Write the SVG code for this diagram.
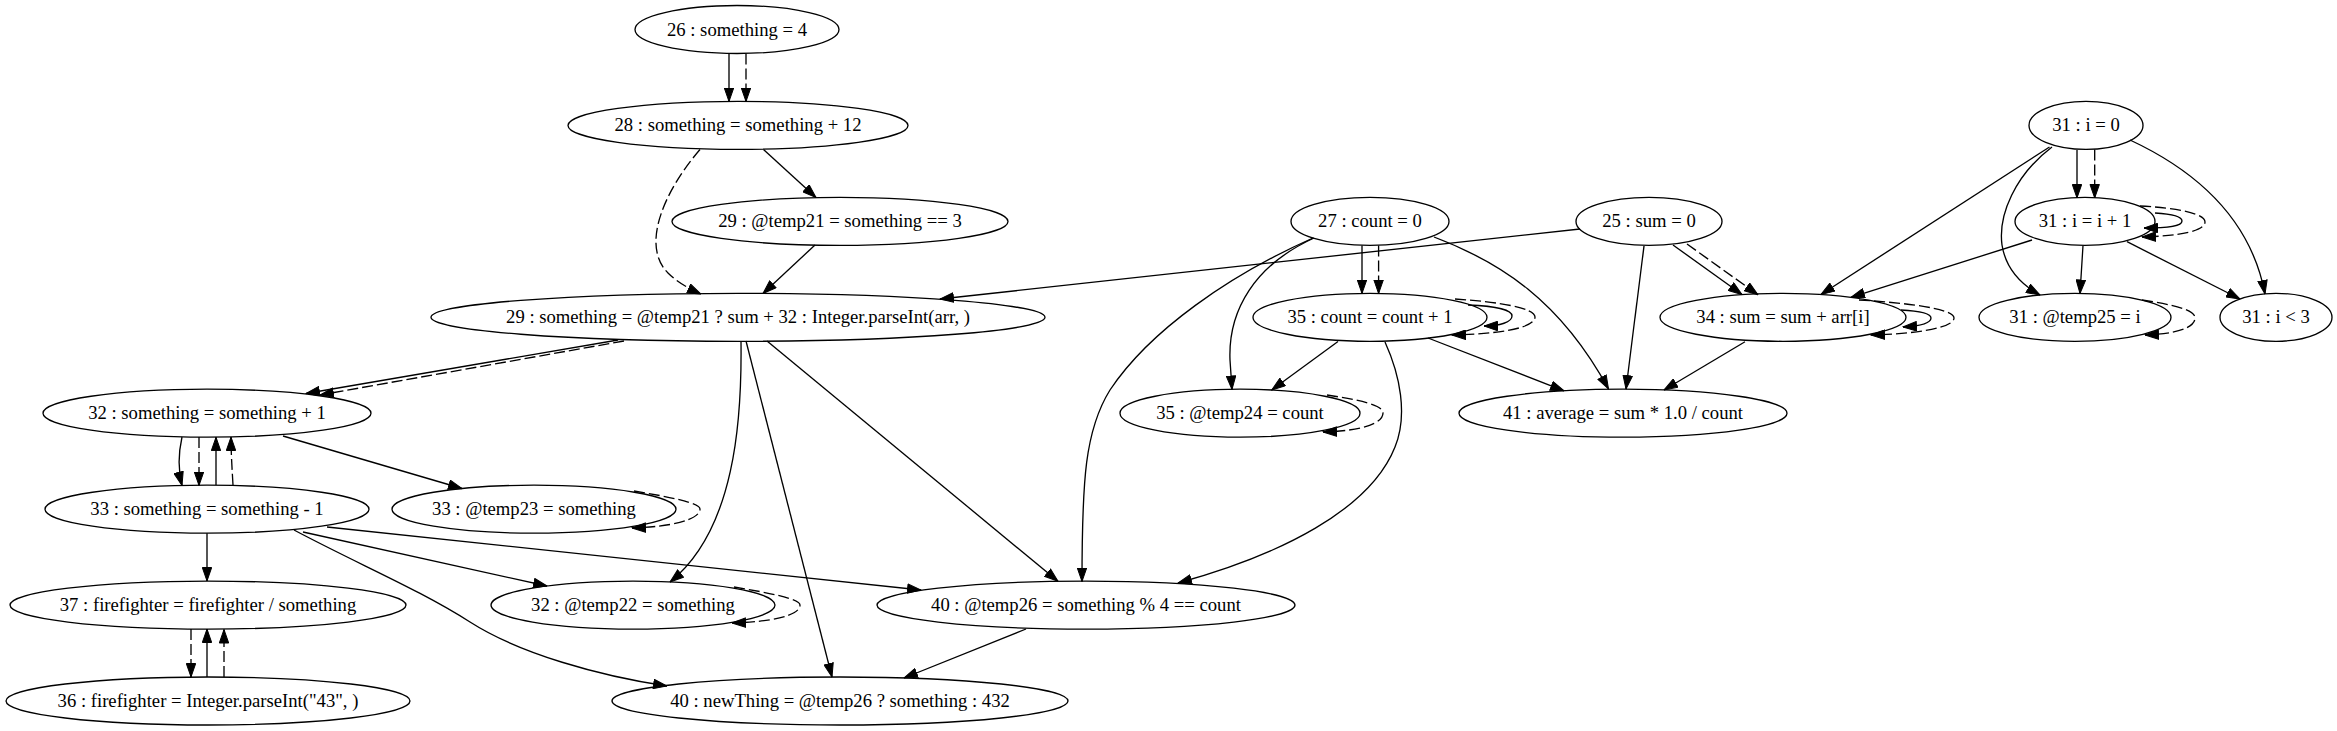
<svg xmlns="http://www.w3.org/2000/svg" width="2337" height="731" viewBox="0 0 2337 731">
<style>
.n ellipse{fill:none;stroke:#000;stroke-width:1.33}
.n text{font-family:"Liberation Serif","Times New Roman",serif;font-size:18.67px;text-anchor:middle;fill:#000}
#edges path{fill:none;stroke:#000;stroke-width:1.33;marker-end:url(#ah)}
#edges path.d{stroke-dasharray:11,4}
</style>
<defs>
<marker id="ah" markerUnits="userSpaceOnUse" viewBox="0 0 14.5 10.4" markerWidth="14.5" markerHeight="10.4" refX="14" refY="5.2" orient="auto">
<path d="M0.5,0.5 L14,5.2 L0.5,9.9 Z" fill="#000" stroke="#000" stroke-width="1" stroke-dasharray="none"/>
</marker>
</defs>
<rect width="2337" height="731" fill="#fff"/>
<g id="edges">
<path d="M729,53.5 L729,101.5"/>
<path class="d" d="M746,53.5 L746,101.5"/>
<path class="d" d="M700,149.5 C665,190 640,245 668,273 C678,283 690,289 701,294"/>
<path d="M763.5,149.5 L816,197.5"/>
<path d="M815,245 L763,293.5"/>
<path d="M618,340 L306,393.5"/>
<path class="d" d="M624,341 L320,395"/>
<path d="M741,341 C742,420 735,530 670,582"/>
<path d="M746,341 L832,677"/>
<path d="M767,341 L1058,581.3"/>
<path d="M182,437 C178,455 178,470 182,485.5"/>
<path class="d" d="M199,437 L199,485.5"/>
<path d="M216,485 L216,437.2"/>
<path class="d" d="M233,485 C232,468 231,452 231,437"/>
<path d="M283,436 L462,488.5"/>
<path class="d" d="M634,491 C670,497 700,503 700,509 C700,520 670,527 632,528"/>
<path d="M207,533.2 L207,581"/>
<path d="M303,532 L547,586"/>
<path d="M327,527 L921,590"/>
<path d="M294,530 C360,565 420,590 470,622 C520,654 600,676 667,686"/>
<path class="d" d="M191,629 L191,677"/>
<path d="M207,677 L207,629"/>
<path class="d" d="M224,677 L224,629.5"/>
<path class="d" d="M734,587 C770,593 800,599 800,605 C800,616 770,622 732,623"/>
<path d="M1026,629 L904,678"/>
<path d="M1580,229 L940,299"/>
<path d="M1362,245.5 L1362,293.5"/>
<path class="d" d="M1378.6,245.5 L1378.6,293.5"/>
<path d="M1314,238 C1255,265 1228,310 1230,360 L1232,389.5"/>
<path d="M1313,238 C1230,275 1150,330 1110,390 C1085,430 1082,480 1082,581.5"/>
<path d="M1434,237 C1500,262 1560,300 1608.5,389"/>
<path d="M1468,305 C1495,306 1512,310 1512,316 C1512,322 1500,326 1484,326"/>
<path class="d" d="M1455,299 C1500,302 1535,308 1535,317 C1535,328 1500,334 1452,335"/>
<path d="M1338,341.5 L1271.7,390"/>
<path d="M1428,338 L1564,390.8"/>
<path d="M1385,342 C1400,375 1408,415 1395,447 C1370,510 1280,555 1178,583"/>
<path class="d" d="M1327,395 C1360,400 1383,405 1383,413 C1383,424 1360,431 1323,432"/>
<path d="M1673,245 L1742,294.5"/>
<path class="d" d="M1687,244 L1758,294.8"/>
<path d="M1644,246 L1626,389"/>
<path d="M1745,341.7 L1664,390"/>
<path d="M1901,310 C1920,311 1931,314 1931,318 C1931,323 1920,326 1903,327"/>
<path class="d" d="M1859,300 C1910,303 1954,309 1954,318 C1954,328 1915,334 1871,335"/>
<path d="M2077,150 L2077,198"/>
<path class="d" d="M2094.7,149.5 L2094.7,198"/>
<path d="M2049.5,147 L1821,294.5"/>
<path d="M2052,147 C2015,175 1998,215 2002,245 C2006,270 2022,285 2040,295"/>
<path d="M2130,140 C2190,168 2250,215 2265,294"/>
<path d="M2155,213 C2172,214 2182,217 2182,221 C2182,226 2170,228 2144,228"/>
<path class="d" d="M2140,206 C2180,208 2205,214 2205,222 C2205,231 2180,236 2142,237"/>
<path d="M2032,240 L1851,297.3"/>
<path d="M2083,245.7 L2080,293.5"/>
<path d="M2127,241.7 L2240,299"/>
<path class="d" d="M2142,300 C2175,305 2195,310 2195,318 C2195,328 2175,334 2145,335"/>
</g>
<g id="n26" class="n"><ellipse cx="737" cy="29.5" rx="102" ry="24"/><text x="737" y="35.5">26 : something = 4</text></g>
<g id="n28" class="n"><ellipse cx="738" cy="125.4" rx="170" ry="24"/><text x="738" y="131.4">28 : something = something + 12</text></g>
<g id="n29t" class="n"><ellipse cx="840" cy="221.4" rx="168" ry="24"/><text x="840" y="227.4">29 : @temp21 = something == 3</text></g>
<g id="n29s" class="n"><ellipse cx="738" cy="317.3" rx="307" ry="24"/><text x="738" y="323.3">29 : something = @temp21 ? sum + 32 : Integer.parseInt(arr, )</text></g>
<g id="n32p" class="n"><ellipse cx="207" cy="413.2" rx="164" ry="24"/><text x="207" y="419.2">32 : something = something + 1</text></g>
<g id="n33m" class="n"><ellipse cx="207" cy="509.2" rx="162" ry="24"/><text x="207" y="515.2">33 : something = something - 1</text></g>
<g id="n33t" class="n"><ellipse cx="534" cy="509.2" rx="142" ry="24"/><text x="534" y="515.2">33 : @temp23 = something</text></g>
<g id="n37" class="n"><ellipse cx="208" cy="605.1" rx="198" ry="24"/><text x="208" y="611.1">37 : firefighter = firefighter / something</text></g>
<g id="n36" class="n"><ellipse cx="208" cy="701" rx="202" ry="24"/><text x="208" y="707">36 : firefighter = Integer.parseInt("43", )</text></g>
<g id="n32t" class="n"><ellipse cx="633" cy="605.1" rx="142" ry="24"/><text x="633" y="611.1">32 : @temp22 = something</text></g>
<g id="n40t" class="n"><ellipse cx="1086" cy="605.1" rx="209" ry="24"/><text x="1086" y="611.1">40 : @temp26 = something % 4 == count</text></g>
<g id="n40n" class="n"><ellipse cx="840" cy="701" rx="228" ry="24"/><text x="840" y="707">40 : newThing = @temp26 ? something : 432</text></g>
<g id="n27" class="n"><ellipse cx="1370" cy="221.4" rx="79" ry="24"/><text x="1370" y="227.4">27 : count = 0</text></g>
<g id="n25" class="n"><ellipse cx="1649" cy="221.4" rx="73" ry="24"/><text x="1649" y="227.4">25 : sum = 0</text></g>
<g id="n35c" class="n"><ellipse cx="1370" cy="317.3" rx="117" ry="24"/><text x="1370" y="323.3">35 : count = count + 1</text></g>
<g id="n35t" class="n"><ellipse cx="1240" cy="413.2" rx="120" ry="24"/><text x="1240" y="419.2">35 : @temp24 = count</text></g>
<g id="n34" class="n"><ellipse cx="1783" cy="317.3" rx="123" ry="24"/><text x="1783" y="323.3">34 : sum = sum + arr[i]</text></g>
<g id="n41" class="n"><ellipse cx="1623" cy="413.2" rx="164" ry="24"/><text x="1623" y="419.2">41 : average = sum * 1.0 / count</text></g>
<g id="n31a" class="n"><ellipse cx="2086" cy="125.4" rx="57" ry="24"/><text x="2086" y="131.4">31 : i = 0</text></g>
<g id="n31b" class="n"><ellipse cx="2085" cy="221.4" rx="70" ry="24"/><text x="2085" y="227.4">31 : i = i + 1</text></g>
<g id="n31t" class="n"><ellipse cx="2075" cy="317.3" rx="96" ry="24"/><text x="2075" y="323.3">31 : @temp25 = i</text></g>
<g id="n31c" class="n"><ellipse cx="2276" cy="317.3" rx="56" ry="24"/><text x="2276" y="323.3">31 : i &lt; 3</text></g>
</svg>
